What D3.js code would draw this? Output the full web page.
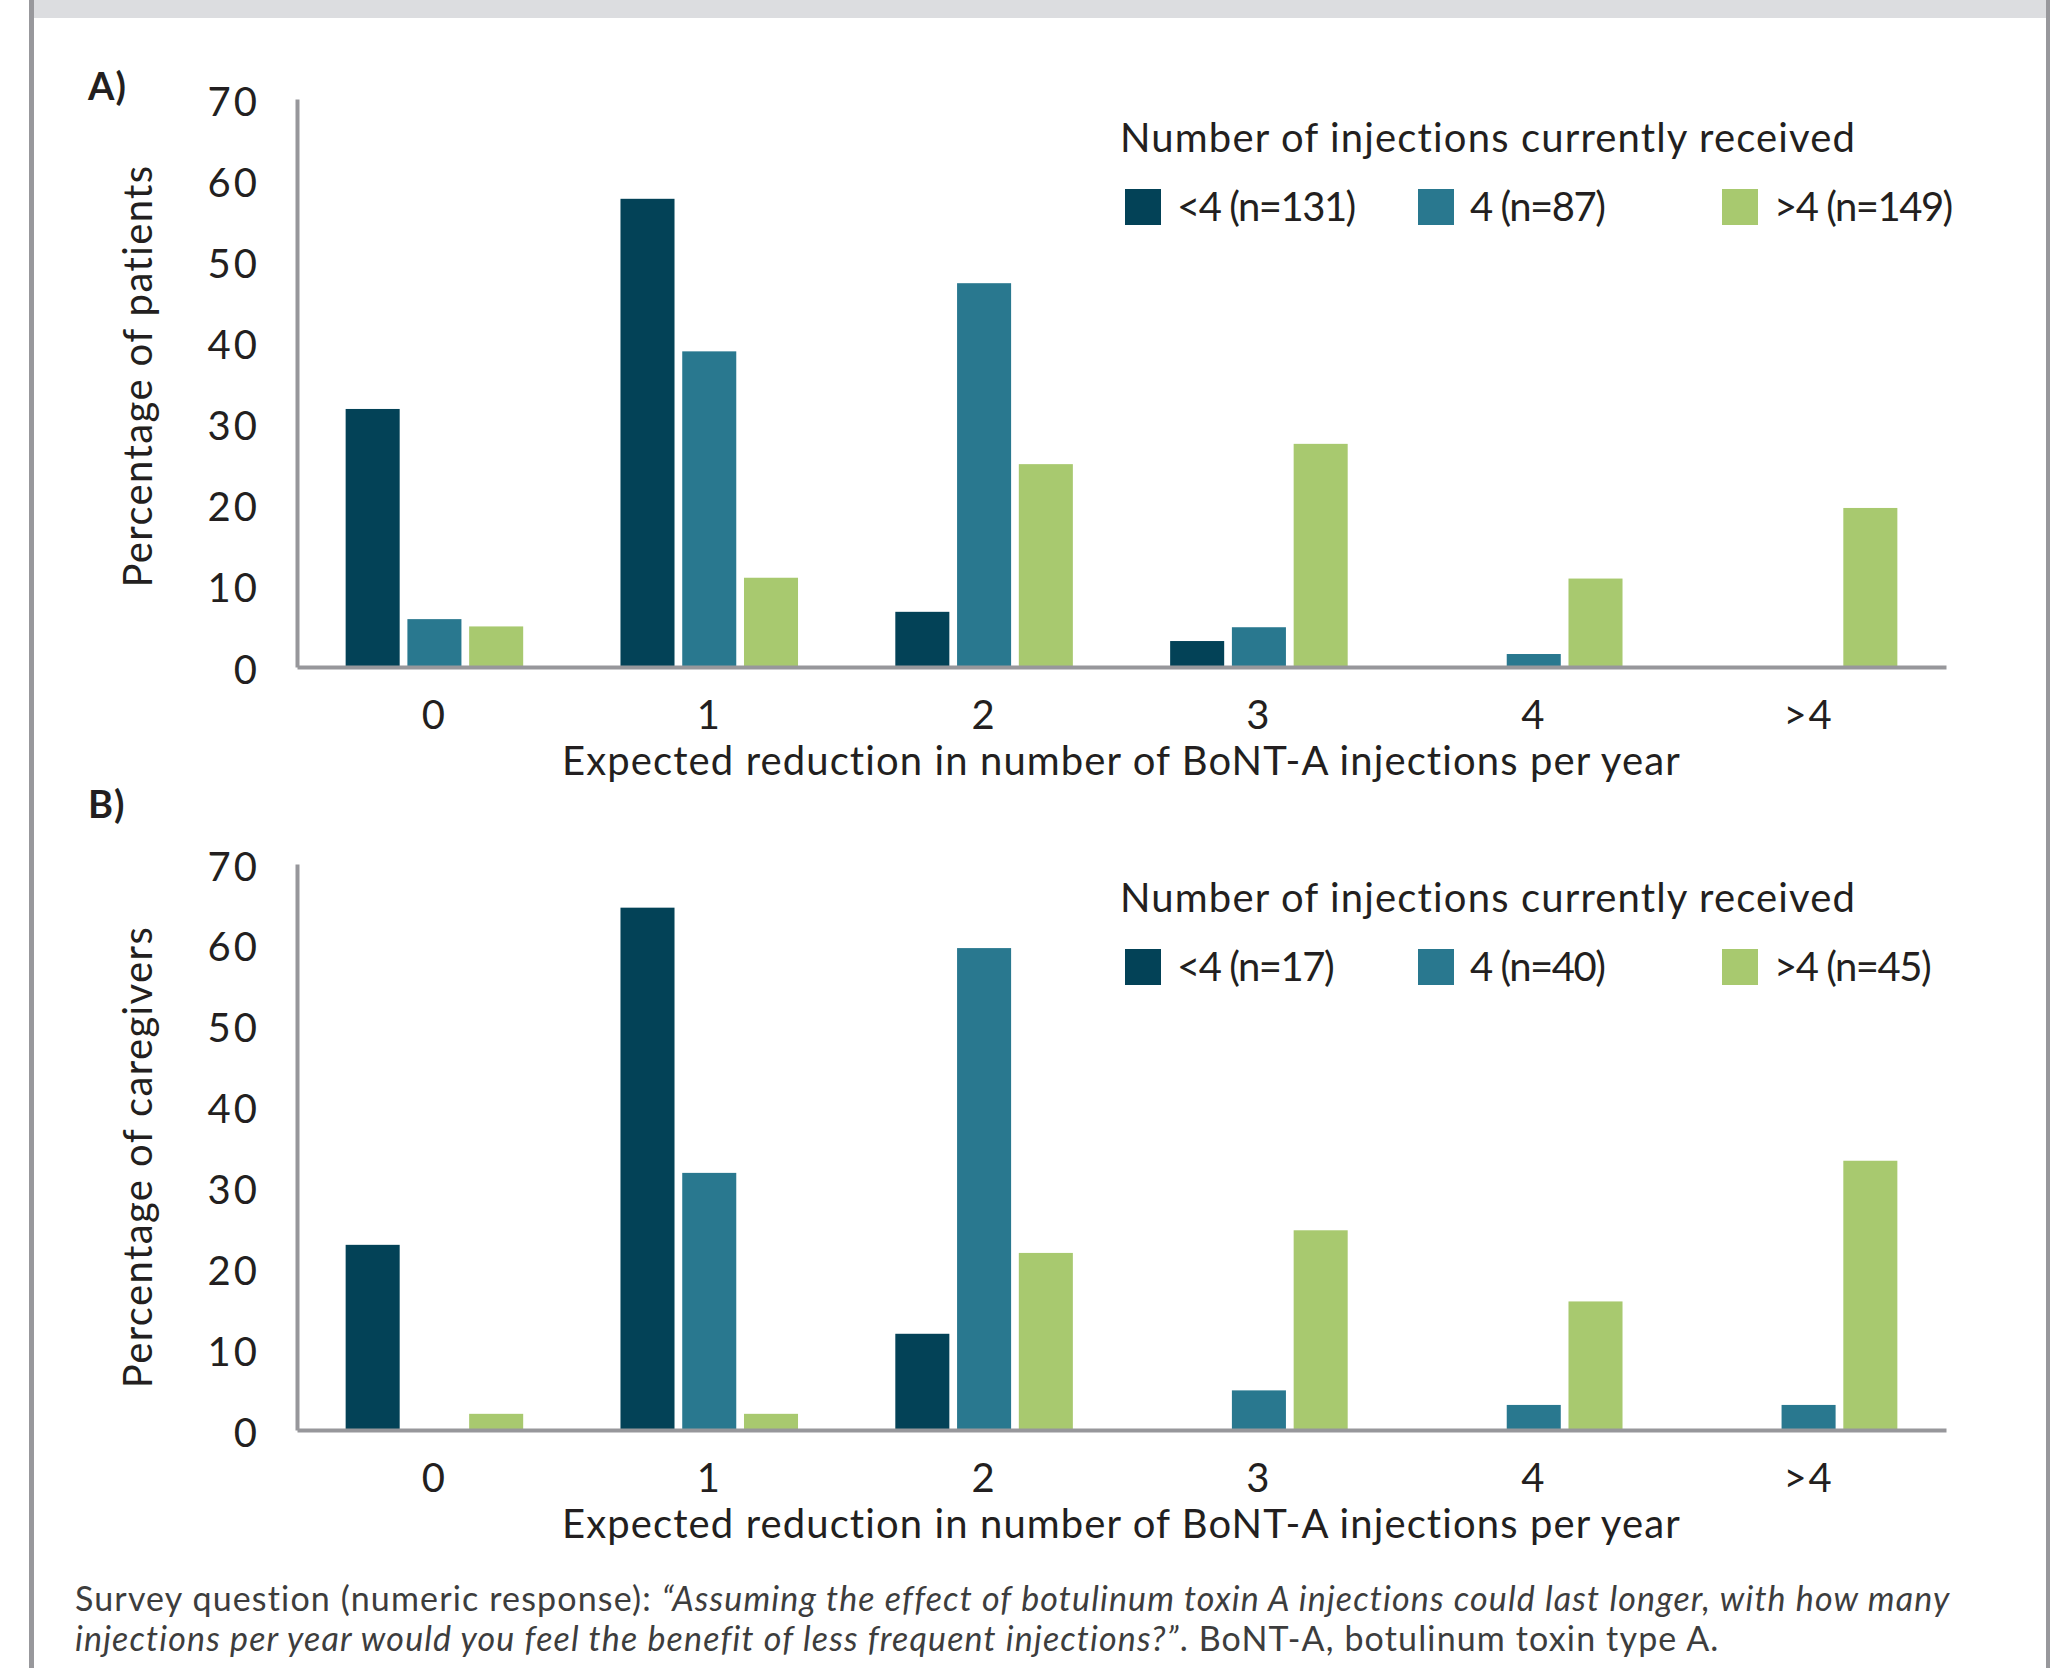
<!DOCTYPE html>
<html>
<head>
<meta charset="utf-8">
<script src="https://cdn.jsdelivr.net/npm/d3@7"></script>
<style>
    html, body { margin: 0; padding: 0; background: #fff; }
    svg { display: block; }
    text { font-family: Lato, "Open Sans", sans-serif; fill: #231f20; }
</style>
</head>
<body>
<svg id="canvas" width="2059" height="1668"></svg>
<script>
// categories on the x axis and the three groups of the legend
const categories = ["0", "1", "2", "3", "4", ">4"];
const groups = ["<4", "4", ">4"];
const yTicks = [0, 10, 20, 30, 40, 50, 60, 70];

// A) patients, % per category
const patientsLt4 = [31.8, 57.7, 6.8, 3.2, 0, 0];
const patients4 = [5.9, 38.9, 47.3, 4.9, 1.6, 0];
const patientsGt4 = [5.0, 11.0, 25.0, 27.5, 10.9, 19.6];
const patientsN = [131, 87, 149];

// B) caregivers, % per category
const caregiversLt4 = [22.9, 64.6, 11.9, 0, 0, 0];
const caregivers4 = [0, 31.8, 59.6, 4.9, 3.1, 3.1];
const caregiversGt4 = [2.0, 2.0, 21.9, 24.7, 15.9, 33.3];
const caregiversN = [17, 40, 45];

const colors = ["#034257", "#29788f", "#a8c96f"];
const axisGrey = "#97979b";

const canvas = d3.select("#canvas");

// frame: grey band on top, two side rules
canvas.append("rect").attr("x", 32).attr("y", 0).attr("width", 2016).attr("height", 18).attr("fill", "#dcdde0");
canvas.append("rect").attr("x", 29).attr("y", 0).attr("width", 5).attr("height", 1668).attr("fill", "#98989c");
canvas.append("rect").attr("x", 2046).attr("y", 0).attr("width", 4).attr("height", 1668).attr("fill", "#98989c");

const panels = [
    {
        tag: "A)", tagY: 100, top: 99, base: 667,
        yTitle: "Percentage of patients", yTitleY: 376,
        values: [patientsLt4, patients4, patientsGt4], n: patientsN,
        legendY: 152
    },
    {
        tag: "B)", tagY: 818, top: 864, base: 1430,
        yTitle: "Percentage of caregivers", yTitleY: 1157,
        values: [caregiversLt4, caregivers4, caregiversGt4], n: caregiversN,
        legendY: 912
    }
];

const x0 = d3.scaleBand()
    .domain(categories)
    .range([297, 1946])
    .paddingInner(0.354)
    .paddingOuter(0.177);

const x1 = d3.scaleBand()
    .domain(groups)
    .range([0, x0.bandwidth()])
    .paddingInner(0.125);

const legendX = [1125, 1418, 1722];

panels.forEach((p) => {
    const y = d3.scaleLinear().domain([0, 70]).range([p.base, p.top]);
    const g = canvas.append("g");

    g.append("text")
        .attr("x", 88)
        .attr("y", p.tagY)
        .style("font-size", "38px")
        .style("font-weight", "bold")
        .style("letter-spacing", "1px")
        .text(p.tag);

    // bars
    const rows = categories.map((c, i) => {
        return { cat: c, vals: groups.map((k, j) => ({ key: k, idx: j, value: p.values[j][i] })) };
    });

    g.selectAll("g.cat")
        .data(rows)
        .enter()
        .append("g")
        .attr("class", "cat")
        .attr("transform", (d) => `translate(${x0(d.cat)},0)`)
        .selectAll("rect")
        .data((d) => d.vals.filter((v) => v.value > 0))
        .enter()
        .append("rect")
        .attr("x", (d) => x1(d.key))
        .attr("width", x1.bandwidth())
        .attr("y", (d) => y(d.value))
        .attr("height", (d) => p.base - y(d.value))
        .attr("fill", (d) => colors[d.idx]);

    // y axis
    const yAxis = g.append("g")
        .attr("transform", "translate(297,0)")
        .call(d3.axisLeft(y).tickValues(yTicks).tickSize(0).tickPadding(37));
    yAxis.select(".domain").attr("stroke", axisGrey).attr("stroke-width", 4);
    yAxis.selectAll("text")
        .attr("dy", "0.4em")
        .style("font-size", "40px")
        .style("letter-spacing", "3px")
        .style("font-family", "Lato, sans-serif")
        .attr("fill", "#231f20");

    // x axis
    const xAxis = g.append("g")
        .attr("transform", `translate(0,${p.base})`)
        .call(d3.axisBottom(x0).tickSize(0).tickPadding(34));
    xAxis.select(".domain").attr("stroke", axisGrey).attr("stroke-width", 4);
    xAxis.selectAll("text")
        .style("font-size", "40px")
        .style("letter-spacing", "2px")
        .style("font-family", "Lato, sans-serif")
        .attr("fill", "#231f20");

    g.append("text")
        .attr("x", (297 + 1946) / 2)
        .attr("y", p.base + 108)
        .attr("text-anchor", "middle")
        .style("font-size", "40px")
        .style("letter-spacing", "1.1px")
        .text("Expected reduction in number of BoNT-A injections per year");

    g.append("text")
        .attr("transform", `translate(152,${p.yTitleY}) rotate(-90)`)
        .attr("text-anchor", "middle")
        .style("font-size", "40px")
        .style("letter-spacing", "1.4px")
        .text(p.yTitle);

    // legend
    g.append("text")
        .attr("x", 1120)
        .attr("y", p.legendY)
        .style("font-size", "40px")
        .style("letter-spacing", "1.15px")
        .text("Number of injections currently received");

    groups.forEach((k, j) => {
        g.append("rect")
            .attr("x", legendX[j])
            .attr("y", p.legendY + 37)
            .attr("width", 36)
            .attr("height", 36)
            .attr("fill", colors[j]);
        g.append("text")
            .attr("x", legendX[j] + 52)
            .attr("y", p.legendY + 69)
            .style("font-size", "40px")
            .style("letter-spacing", "-1.5px")
            .text(`${k} (n=${p.n[j]})`);
    });
});

// footnote
const note = canvas.append("text")
    .attr("x", 75)
    .attr("y", 1611)
    .style("font-size", "34px")
    .style("letter-spacing", "1.15px")
    .style("fill", "#3d3d3d");
note.append("tspan").text("Survey question (numeric response): ");
note.append("tspan").style("font-style", "italic")
    .text("\u201cAssuming the effect of botulinum toxin A injections could last longer, with how many");

const note2 = canvas.append("text")
    .attr("x", 75)
    .attr("y", 1651)
    .style("font-size", "34px")
    .style("letter-spacing", "1.15px")
    .style("fill", "#3d3d3d");
note2.append("tspan").style("font-style", "italic")
    .text("injections per year would you feel the benefit of less frequent injections?\u201d");
note2.append("tspan").text(". BoNT-A, botulinum toxin type A.");
</script>
</body>
</html>
